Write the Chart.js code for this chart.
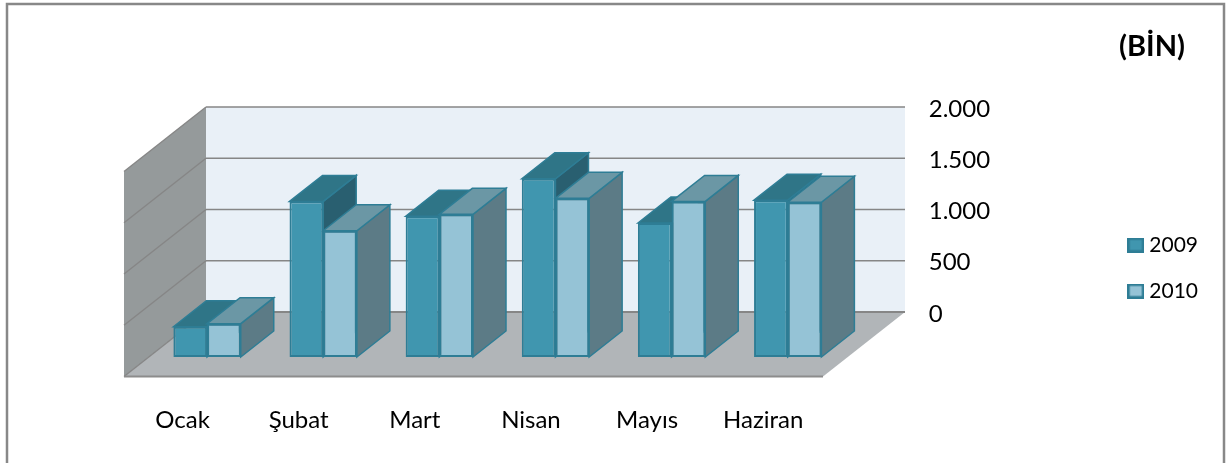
<!DOCTYPE html>
<html><head><meta charset="utf-8">
<style>html,body{margin:0;padding:0;background:#fff}#w{width:1230px;height:463px;position:relative}</style>
<script src="https://cdn.jsdelivr.net/npm/chart.js@4"></script>
</head><body><div id="w"><canvas id="c" width="1230" height="463"></canvas></div>
<script>
const categories = ['Ocak','Şubat','Mart','Nisan','Mayıs','Haziran'];
const values2009 = [295,1518,1372,1739,1307,1530];
const values2010 = [325,1232,1392,1548,1518,1510];
const seriesNames = ['2009','2010'];
const yTicks = {0:'0',500:'500',1000:'1.000',1500:'1.500',2000:'2.000'};
const unitLabel = '(BİN)';

const FONT = 'Lato, Carlito, sans-serif';
const faceColors = [{top:'#2F7587',side:'#295F70'},{top:'#6B97A5',side:'#5C7B86'}];
const frontColors = ['#4096AF','#95C3D6'];
const edge = '#2E7D95';

function poly(ctx, pts, fill, stroke, lw){
  ctx.beginPath();
  pts.forEach((p,i)=> i?ctx.lineTo(p[0],p[1]):ctx.moveTo(p[0],p[1]));
  ctx.closePath();
  if(fill){ctx.fillStyle=fill;ctx.fill();}
  if(stroke){ctx.strokeStyle=stroke;ctx.lineWidth=lw||1;ctx.stroke();}
}
function line(ctx,x1,y1,x2,y2,c,w){ctx.beginPath();ctx.moveTo(x1,y1);ctx.lineTo(x2,y2);ctx.strokeStyle=c;ctx.lineWidth=w;ctx.stroke();}

const swatches = frontColors.map(col=>{
  const s=document.createElement('canvas');s.width=17;s.height=15;
  const g=s.getContext('2d');
  g.fillStyle=edge;g.fillRect(0,0,17,15);
  g.fillStyle=col;g.fillRect(2.5,2.5,12,10);
  return s;
});

const scene = {
  id:'scene',
  beforeDatasetsDraw(chart){
    const {ctx, scales:{y}} = chart;
    const wallDx = 82, wallDy = -45, frontDy = 19.5, frontX = 124, backX = 206, floorRight = 823;
    const y0 = y.getPixelForValue(0), yMax = y.getPixelForValue(y.max);
    const backB = y0 + wallDy, backT = yMax + wallDy;
    const frontB = y0 + frontDy, frontT = yMax + frontDy;
    ctx.save();
    // frame
    ctx.strokeStyle='#888888';ctx.lineWidth=2.5;
    ctx.beginPath();ctx.moveTo(7,463);ctx.lineTo(7,4);ctx.lineTo(1224,4);ctx.lineTo(1224,463);ctx.stroke();
    // unit
    ctx.fillStyle='#000';ctx.font='bold 29px '+FONT;ctx.textAlign='right';ctx.textBaseline='middle';
    ctx.fillText(unitLabel,1185,47);
    // walls and floor
    poly(ctx,[[backX,backT],[floorRight+wallDx,backT],[floorRight+wallDx,backB],[backX,backB]],'#E9F0F7');
    poly(ctx,[[frontX,frontB],[backX,backB],[backX,backT],[frontX,frontT]],'#959A9B');
    poly(ctx,[[frontX,frontB],[backX,backB],[floorRight+wallDx,backB],[floorRight,frontB]],'#B1B5B8');
    y.ticks.forEach(t=>{
      const p=y.getPixelForValue(t.value);
      line(ctx,backX,p+wallDy,floorRight+wallDx,p+wallDy,'#868686',t.value===0?2:1.6);
      line(ctx,frontX,p+frontDy,backX,p+wallDy,'#868686',1.4);
    });
    line(ctx,frontX,frontB,floorRight,frontB,'#8C8C8C',2.2);
    // 3D faces of the bars
    const dx=33, dy=-26;
    for(let j=0;j<categories.length;j++){
      for(let d=0;d<2;d++){
        const b=chart.getDatasetMeta(d).data[j];
        const L=b.x-b.width/2,R=b.x+b.width/2,T=b.y,B=b.base;
        poly(ctx,[[R,T],[R+dx,T+dy],[R+dx,B+dy],[R,B]],faceColors[d].side,edge,1.5);
        poly(ctx,[[L,T],[L+dx,T+dy],[R+dx,T+dy],[R,T]],faceColors[d].top,edge,1.5);
      }
    }
    ctx.restore();
  }
};

new Chart(document.getElementById('c'),{
  type:'bar',
  data:{labels:categories,datasets:[
    {label:seriesNames[0],data:values2009,backgroundColor:frontColors[0],borderColor:edge,borderWidth:2,borderSkipped:false},
    {label:seriesNames[1],data:values2010,backgroundColor:frontColors[1],borderColor:edge,borderWidth:2,borderSkipped:false}
  ]},
  plugins:[scene],
  options:{
    responsive:false,animation:false,
    layout:{padding:{left:149,top:152,right:22,bottom:79}},
    datasets:{bar:{barPercentage:1,categoryPercentage:0.58}},
    plugins:{
      legend:{position:'right',align:'center',
        labels:{usePointStyle:true,pointStyleWidth:6,boxHeight:14,padding:25,color:'#000',font:{family:FONT,size:21},
          generateLabels:c=>Chart.defaults.plugins.legend.labels.generateLabels(c).map((l,i)=>({...l,pointStyle:swatches[i]}))}},
      title:{display:false},tooltip:{enabled:false}
    },
    scales:{
      x:{grid:{display:false,drawTicks:false},border:{display:false},
        afterFit:s=>{s.height=27;},
        ticks:{mirror:true,padding:-78,labelOffset:-24.5,color:'#000',maxRotation:0,font:{family:FONT,size:24}}},
      y:{position:'right',min:0,max:2000,grid:{display:false,drawTicks:false},border:{display:false},
        afterFit:s=>{s.width=262;},
        afterBuildTicks:s=>{s.ticks=Object.keys(yTicks).map(v=>({value:+v}));},
        ticks:{padding:83,labelOffset:-43,color:'#000',font:{family:FONT,size:24},callback:v=>yTicks[v]}}
    }
  }
});
</script></body></html>
